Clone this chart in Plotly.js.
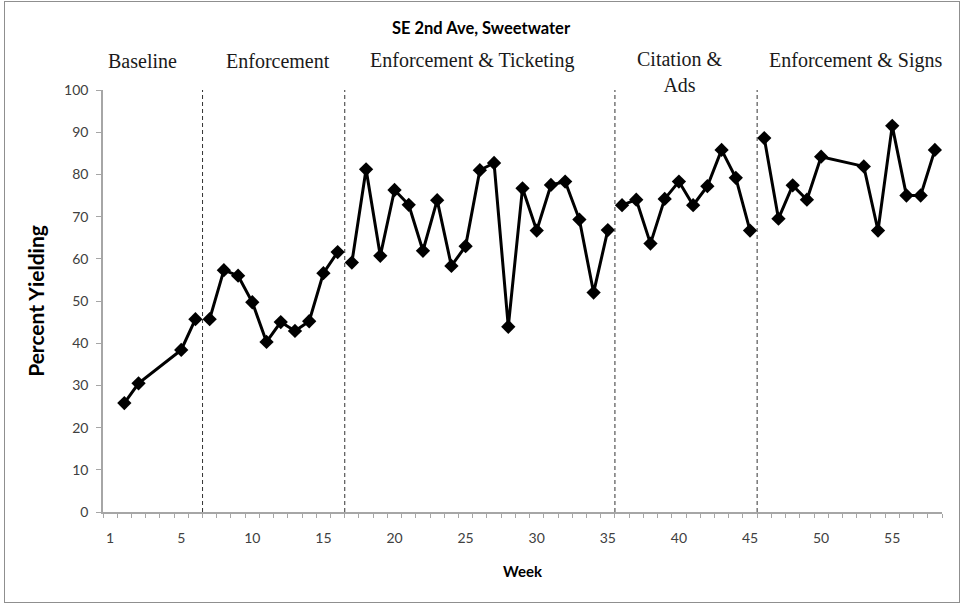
<!DOCTYPE html>
<html>
<head>
<meta charset="utf-8">
<script src="https://cdn.plot.ly/plotly-3.0.1.min.js"></script>
<style>
html,body{margin:0;padding:0;background:#fff}
#wrap{position:relative;width:962px;height:603px}
#chart{width:962px;height:603px}
#frame{position:absolute;left:4px;top:1px;width:956px;height:602px;border:1px solid #8f8f8f;box-sizing:border-box;pointer-events:none}
</style>
</head>
<body>
<div id="wrap"><div id="chart"></div><div id="frame"></div></div>
<script>
// ---- data ----
const chartTitle = 'SE 2nd Ave, Sweetwater';
const phaseNames = ['Baseline', 'Enforcement', 'Enforcement &amp; Ticketing', 'Citation &amp;<br>Ads', 'Enforcement &amp; Signs'];

const baselineWeeks = [1, 2, 5, 6];
const baselineValues = [25.8, 30.5, 38.4, 45.7];

const enforcementWeeks = [7, 8, 9, 10, 11, 12, 13, 14, 15, 16];
const enforcementValues = [45.7, 57.3, 56.0, 49.7, 40.3, 45.0, 42.9, 45.2, 56.6, 61.6];

const ticketingWeeks = [17, 18, 19, 20, 21, 22, 23, 24, 25, 26, 27, 28, 29, 30, 31, 32, 33, 34, 35];
const ticketingValues = [59.1, 81.2, 60.7, 76.3, 72.8, 61.9, 73.9, 58.3, 63.0, 81.0, 82.7, 43.9, 76.7, 66.7, 77.5, 78.3, 69.3, 52.0, 66.8];

const citationWeeks = [36, 37, 38, 39, 40, 41, 42, 43, 44, 45];
const citationValues = [72.7, 74.0, 63.6, 74.2, 78.3, 72.7, 77.2, 85.8, 79.2, 66.7];

const signsWeeks = [46, 47, 48, 49, 50, 53, 54, 55, 56, 57, 58];
const signsValues = [88.6, 69.5, 77.4, 74.0, 84.2, 81.9, 66.7, 91.5, 75.0, 75.0, 85.8];

const phaseBoundaries = [6.5, 16.5, 35.5, 45.5];

const tickWeeks = [0, 5, 10, 15, 20, 25, 30, 35, 40, 45, 50, 55];
const tickLabels = ['1', '5', '10', '15', '20', '25', '30', '35', '40', '45', '50', '55'];

// ---- chart ----
const phases = [
  [baselineWeeks, baselineValues],
  [enforcementWeeks, enforcementValues],
  [ticketingWeeks, ticketingValues],
  [citationWeeks, citationValues],
  [signsWeeks, signsValues]
];

const traces = phases.map((p, i) => ({
  type: 'scatter',
  mode: 'lines+markers',
  x: p[0],
  y: p[1],
  name: phaseNames[i],
  line: {color: '#000', width: 3},
  marker: {symbol: 'diamond', size: 11, color: '#000'},
  showlegend: false,
  hoverinfo: 'x+y'
}));

const shapes = phaseBoundaries.map(b => ({
  type: 'line', xref: 'x', yref: 'y',
  x0: b, x1: b, y0: 0, y1: 100,
  line: {color: '#333', width: 1, dash: '4px,3px'}
}));

const labelPos = [
  {x: 0.047, y: 1.069, yanchor: 'middle'},
  {x: 0.208, y: 1.069, yanchor: 'middle'},
  {x: 0.440, y: 1.069, yanchor: 'middle'},
  {x: 0.687, y: 1.105, yanchor: 'top'},
  {x: 0.897, y: 1.069, yanchor: 'middle'}
];

const annotations = phaseNames.map((n, i) => ({
  text: n, xref: 'paper', yref: 'paper',
  x: labelPos[i].x, y: labelPos[i].y,
  xanchor: 'center', yanchor: labelPos[i].yanchor,
  showarrow: false,
  font: {family: '"Liberation Serif", "Times New Roman", serif', size: 20, color: '#1a1a1a'}
}));

const layout = {
  width: 962, height: 603,
  margin: {l: 103, r: 20, t: 90, b: 91},
  paper_bgcolor: '#fff', plot_bgcolor: '#fff',
  title: {
    text: '<b>' + chartTitle + '</b>',
    xref: 'container', x: 0.5, xanchor: 'center',
    yref: 'container', y: 1 - 28 / 603, yanchor: 'middle',
    font: {family: 'Lato, "Open Sans", sans-serif', size: 16.5, color: '#000'}
  },
  font: {family: 'Lato, "Open Sans", sans-serif', size: 14, color: '#404040'},
  xaxis: {
    range: [-0.5, 58.5],
    tickmode: 'array', tickvals: tickWeeks, ticktext: tickLabels,
    ticks: '', showgrid: false, zeroline: false,
    showline: true, linecolor: '#a6a6a6', linewidth: 1.5,
    tickfont: {size: 14, color: '#404040'},
    ticklabelstandoff: 12,
    minor: {tickmode: 'linear', tick0: -0.5, dtick: 1, ticks: 'outside', ticklen: 4, tickcolor: '#a6a6a6', tickwidth: 1, showgrid: false},
    title: {text: '<b>Week</b>', font: {size: 15, color: '#000'}, standoff: 22}
  },
  yaxis: {
    range: [0, 100], dtick: 10, tick0: 0,
    ticks: 'outside', ticklen: 5, tickcolor: '#a6a6a6',
    showgrid: false, zeroline: false,
    showline: true, linecolor: '#a6a6a6', linewidth: 1.5,
    tickfont: {size: 14, color: '#404040'},
    ticklabelstandoff: 5,
    title: {text: '<b>Percent Yielding</b>', font: {size: 21, color: '#000'}, standoff: 14}
  },
  shapes: shapes,
  annotations: annotations
};

Plotly.newPlot('chart', traces, layout, {displayModeBar: false});
</script>
</body>
</html>
